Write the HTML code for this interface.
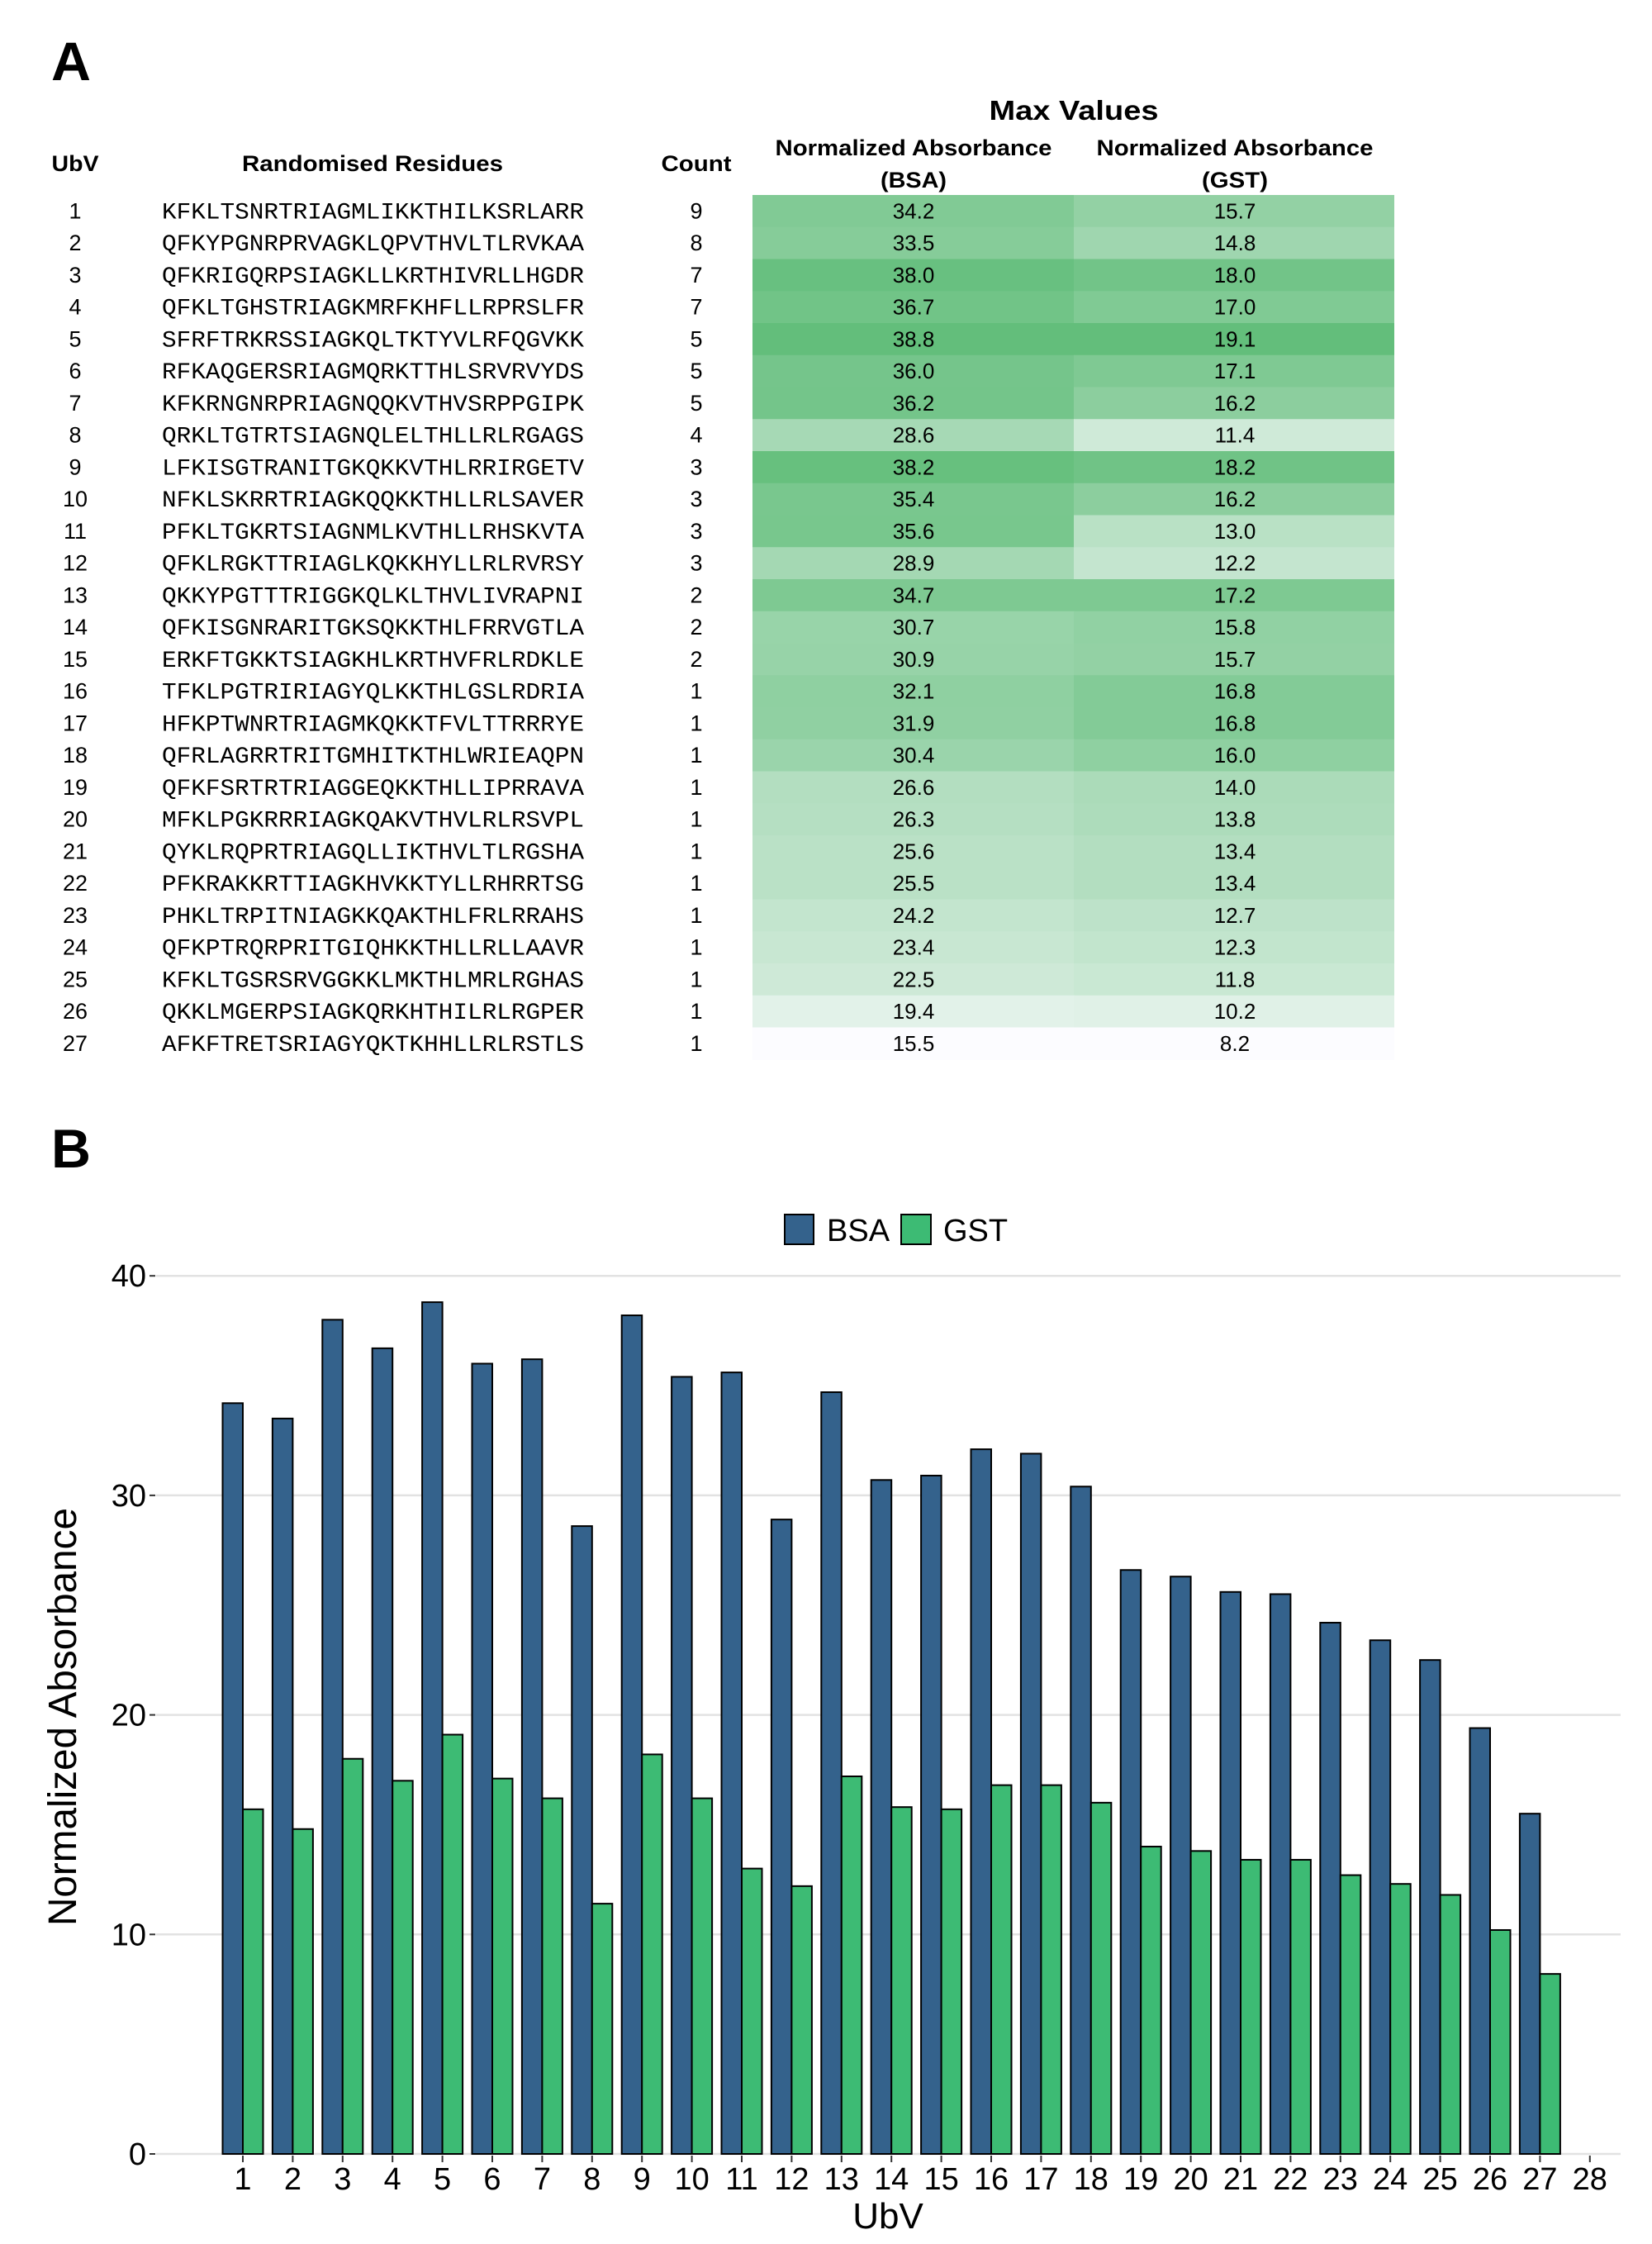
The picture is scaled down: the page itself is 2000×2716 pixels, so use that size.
<!DOCTYPE html>
<html><head><meta charset="utf-8">
<style>
html,body{margin:0;padding:0;background:#fff;}
svg{display:block;}
text{font-family:"Liberation Sans",sans-serif;fill:#000;}
.mono{font-family:"Liberation Mono",monospace;}
</style></head>
<body>
<svg id="fig" width="2000" height="2716" viewBox="0 0 2000 2716" xmlns="http://www.w3.org/2000/svg">
  <text x="62" y="97" font-size="66" font-weight="bold" textLength="48" lengthAdjust="spacingAndGlyphs">A</text>
  <text x="62" y="1413" font-size="66" font-weight="bold" textLength="48" lengthAdjust="spacingAndGlyphs">B</text>
  <g id="table">
    <text x="1300" y="145" font-size="33" font-weight="bold" text-anchor="middle" textLength="205" lengthAdjust="spacingAndGlyphs">Max Values</text>
    <text x="91" y="207" font-size="27" font-weight="bold" text-anchor="middle" textLength="57" lengthAdjust="spacingAndGlyphs">UbV</text>
    <text x="451" y="207" font-size="27" font-weight="bold" text-anchor="middle" textLength="316" lengthAdjust="spacingAndGlyphs">Randomised Residues</text>
    <text x="843" y="207" font-size="27" font-weight="bold" text-anchor="middle" textLength="85" lengthAdjust="spacingAndGlyphs">Count</text>
    <text x="1106" y="188" font-size="27" font-weight="bold" text-anchor="middle" textLength="335" lengthAdjust="spacingAndGlyphs">Normalized Absorbance</text>
    <text x="1106" y="227" font-size="27" font-weight="bold" text-anchor="middle" textLength="80" lengthAdjust="spacingAndGlyphs">(BSA)</text>
    <text x="1495" y="188" font-size="27" font-weight="bold" text-anchor="middle" textLength="335" lengthAdjust="spacingAndGlyphs">Normalized Absorbance</text>
    <text x="1495" y="227" font-size="27" font-weight="bold" text-anchor="middle" textLength="80" lengthAdjust="spacingAndGlyphs">(GST)</text>
    <g id="rows"></g>
  </g>
  <g id="chart">
    <g id="grid"></g>
    <g id="bars"></g>
    <g id="axes"></g>
    <rect x="950" y="1470" width="35" height="36" fill="#34628c" stroke="#000" stroke-width="2"/>
    <text x="1001" y="1502" font-size="38">BSA</text>
    <rect x="1091" y="1470" width="36" height="36" fill="#3dbb74" stroke="#000" stroke-width="2"/>
    <text x="1142" y="1502" font-size="38">GST</text>
    <text x="1075" y="2697" font-size="44" text-anchor="middle">UbV</text>
    <text transform="translate(92,2078) rotate(-90)" font-size="48" text-anchor="middle" textLength="506" lengthAdjust="spacingAndGlyphs">Normalized Absorbance</text>
  </g>
</svg>
<script>
const ubv = [1,2,3,4,5,6,7,8,9,10,11,12,13,14,15,16,17,18,19,20,21,22,23,24,25,26,27];
const residues = ["KFKLTSNRTRIAGMLIKKTHILKSRLARR","QFKYPGNRPRVAGKLQPVTHVLTLRVKAA","QFKRIGQRPSIAGKLLKRTHIVRLLHGDR","QFKLTGHSTRIAGKMRFKHFLLRPRSLFR","SFRFTRKRSSIAGKQLTKTYVLRFQGVKK","RFKAQGERSRIAGMQRKTTHLSRVRVYDS","KFKRNGNRPRIAGNQQKVTHVSRPPGIPK","QRKLTGTRTSIAGNQLELTHLLRLRGAGS","LFKISGTRANITGKQKKVTHLRRIRGETV","NFKLSKRRTRIAGKQQKKTHLLRLSAVER","PFKLTGKRTSIAGNMLKVTHLLRHSKVTA","QFKLRGKTTRIAGLKQKKHYLLRLRVRSY","QKKYPGTTTRIGGKQLKLTHVLIVRAPNI","QFKISGNRARITGKSQKKTHLFRRVGTLA","ERKFTGKKTSIAGKHLKRTHVFRLRDKLE","TFKLPGTRIRIAGYQLKKTHLGSLRDRIA","HFKPTWNRTRIAGMKQKKTFVLTTRRRYE","QFRLAGRRTRITGMHITKTHLWRIEAQPN","QFKFSRTRTRIAGGEQKKTHLLIPRRAVA","MFKLPGKRRRIAGKQAKVTHVLRLRSVPL","QYKLRQPRTRIAGQLLIKTHVLTLRGSHA","PFKRAKKRTTIAGKHVKKTYLLRHRRTSG","PHKLTRPITNIAGKKQAKTHLFRLRRAHS","QFKPTRQRPRITGIQHKKTHLLRLLAAVR","KFKLTGSRSRVGGKKLMKTHLMRLRGHAS","QKKLMGERPSIAGKQRKHTHILRLRGPER","AFKFTRETSRIAGYQKTKHHLLRLRSTLS"];
const counts = [9,8,7,7,5,5,5,4,3,3,3,3,2,2,2,1,1,1,1,1,1,1,1,1,1,1,1];
const bsa = [34.2,33.5,38.0,36.7,38.8,36.0,36.2,28.6,38.2,35.4,35.6,28.9,34.7,30.7,30.9,32.1,31.9,30.4,26.6,26.3,25.6,25.5,24.2,23.4,22.5,19.4,15.5];
const gst = [15.7,14.8,18.0,17.0,19.1,17.1,16.2,11.4,18.2,16.2,13.0,12.2,17.2,15.8,15.7,16.8,16.8,16.0,14.0,13.8,13.4,13.4,12.7,12.3,11.8,10.2,8.2];
const xCats = [1,2,3,4,5,6,7,8,9,10,11,12,13,14,15,16,17,18,19,20,21,22,23,24,25,26,27,28];
const yTicks = [0,10,20,30,40];

const NS = "http://www.w3.org/2000/svg";
function mk(tag, attrs, parent){ const e=document.createElementNS(NS,tag); for(const k in attrs) e.setAttribute(k,attrs[k]); parent.appendChild(e); return e; }

// ---- table ----
const rowsG = document.getElementById('rows');
const rowTop = 236, rowH = 38.75;
function shade(v, arr){
  const mn=Math.min(...arr), mx=Math.max(...arr); const t=(v-mn)/(mx-mn);
  const a=[252,252,255], b=[99,190,123];
  return 'rgb('+a.map((c,i)=>Math.round(c+(b[i]-c)*t)).join(',')+')';
}
ubv.forEach((u,i)=>{
  const y0 = rowTop + i*rowH, cy = y0 + rowH/2 + 9;
  let r = mk('rect',{x:911,y:y0,width:390,height:rowH+0.5,fill:shade(bsa[i],bsa)},rowsG);
  
  
  r = mk('rect',{x:1300,y:y0,width:388,height:rowH+0.5,fill:shade(gst[i],gst)},rowsG);
  
  
  let t = mk('text',{x:91,y:cy,'font-size':27,'text-anchor':'middle'},rowsG); t.textContent=u;
  
  
  t = mk('text',{x:196,y:cy,'font-size':28,'class':'mono',textLength:511,lengthAdjust:'spacingAndGlyphs'},rowsG); t.textContent=residues[i];
  
  
  t = mk('text',{x:843,y:cy,'font-size':27,'text-anchor':'middle'},rowsG); t.textContent=counts[i];
  
  
  t = mk('text',{x:1106,y:cy,'font-size':26,'text-anchor':'middle'},rowsG); t.textContent=bsa[i].toFixed(1);
  
  
  t = mk('text',{x:1495,y:cy,'font-size':26,'text-anchor':'middle'},rowsG); t.textContent=gst[i].toFixed(1);
  
  
});

// ---- chart ----
const plotL = 189, plotR = 1962;
function yScale(v){ return 2607 - v*26.57; }
function xScale(c){ return 294 + (c-1)*60.4; }
const bw = 24.5;
const grid = document.getElementById('grid'), bars = document.getElementById('bars'), axes = document.getElementById('axes');
yTicks.forEach(v=>{
  const y=yScale(v);
  let l = mk('line',{x1:plotL,x2:plotR,y1:y,y2:y,stroke:'#e2e2e2','stroke-width':2.5},grid);
  
  
  l = mk('line',{x1:181,x2:188,y1:y,y2:y,stroke:'#333','stroke-width':2},axes);
  
  
  const t = mk('text',{x:177,y:y+13,'font-size':38,'text-anchor':'end'},axes); t.textContent=v;
  
  
});
ubv.forEach((u,i)=>{
  const cx = xScale(u);
  let r = mk('rect',{x:cx-bw,y:yScale(bsa[i]),width:bw,height:yScale(0)-yScale(bsa[i]),fill:'#34628c',stroke:'#000','stroke-width':2},bars);
  
  
  r = mk('rect',{x:cx,y:yScale(gst[i]),width:bw,height:yScale(0)-yScale(gst[i]),fill:'#3dbb74',stroke:'#000','stroke-width':2},bars);
  
  
});
xCats.forEach(c=>{
  const x=xScale(c);
  let l = mk('line',{x1:x,x2:x,y1:2609,y2:2617,stroke:'#333','stroke-width':2},axes);
  
  
  const t = mk('text',{x:x,y:2650,'font-size':38,'text-anchor':'middle'},axes); t.textContent=c;
  
  
});
</script>
</body></html>
